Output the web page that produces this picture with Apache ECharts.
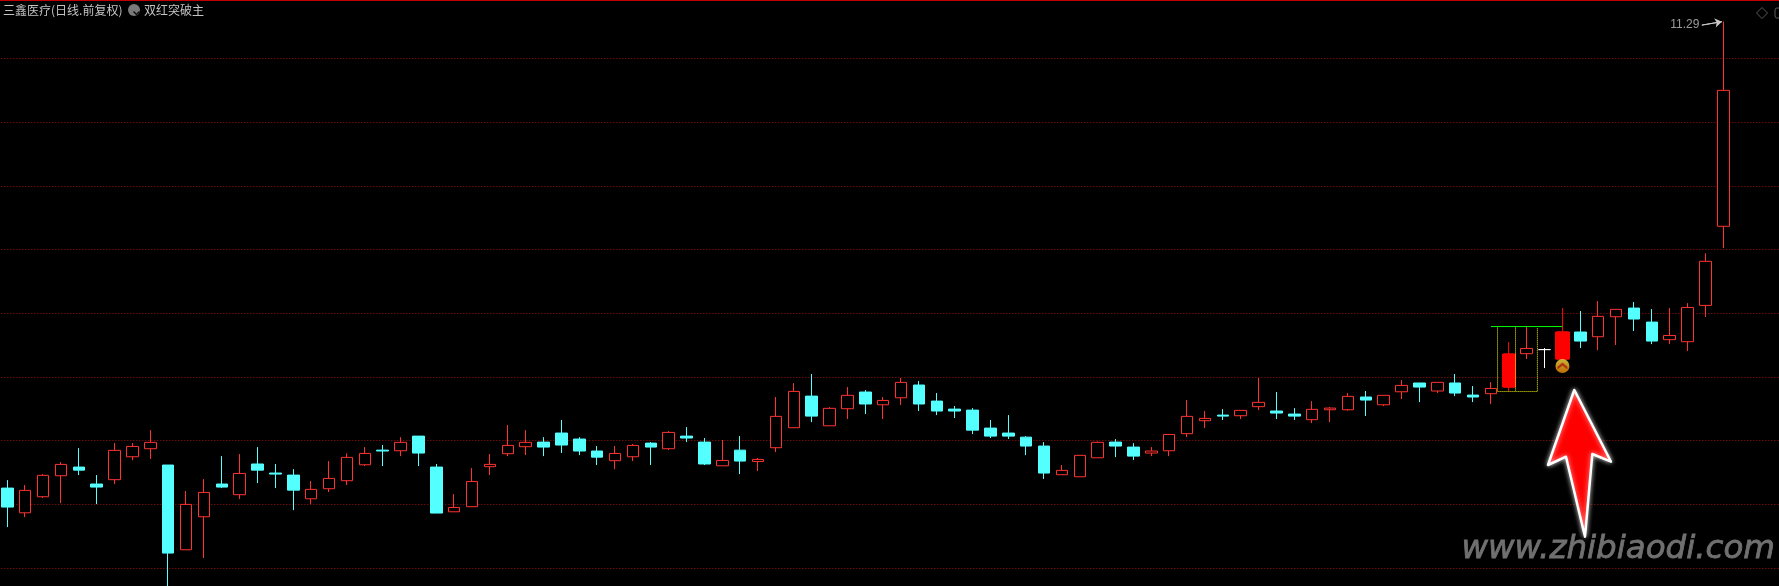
<!DOCTYPE html>
<html>
<head>
<meta charset="utf-8">
<style>html,body{margin:0;padding:0;background:#000;overflow:hidden}#c{width:1779px;height:586px}</style>
<script src="https://cdn.jsdelivr.net/npm/echarts@6/dist/echarts.min.js"></script>
</head>
<body>
<div id="c"></div>
<script>
const stockTitle = '三鑫医疗(日线.前复权)';
const indicatorName = '双红突破主';
const watermark = 'www.zhibiaodi.com';
const peakLabel = '11.29';
const barIndex = Array.from({length:100},(_,i)=>String(i+1));
const opens = [7.628,7.434,7.560,7.725,7.793,7.660,7.694,7.874,7.937,7.809,7.144,7.403,7.660,7.576,7.817,7.746,7.730,7.544,7.623,7.686,7.811,7.926,7.921,8.036,7.793,
7.442,7.482,7.796,7.898,7.953,7.989,8.060,8.013,7.919,7.843,7.874,7.981,7.937,8.036,7.989,7.803,7.926,7.837,7.945,8.102,8.350,8.117,8.251,8.382,8.282,
8.337,8.437,8.311,8.248,8.240,8.099,8.060,8.028,7.958,7.733,7.717,7.866,7.989,7.950,7.903,7.921,8.055,8.157,8.201,8.196,8.267,8.233,8.209,8.165,
8.243,8.243,8.343,8.282,8.384,8.453,8.390,8.453,8.358,8.369,8.421,8.683,8.715,8.641,8.853,8.816,8.973,9.041,8.931,8.793,8.777,9.062,9.683];
const closes = [7.479,7.610,7.728,7.814,7.769,7.636,7.924,7.955,7.987,7.118,7.500,7.594,7.636,7.743,7.769,7.738,7.612,7.618,7.704,7.869,7.900,7.919,7.987,7.903,7.432,
7.476,7.680,7.814,7.963,7.987,7.950,7.966,7.919,7.871,7.900,7.963,7.950,8.065,8.021,7.817,7.845,7.840,7.853,8.191,8.387,8.193,8.254,8.356,8.288,8.316,
8.458,8.288,8.233,8.233,8.083,8.036,8.036,7.958,7.746,7.767,7.885,7.987,7.958,7.879,7.919,8.049,8.191,8.175,8.193,8.238,8.301,8.217,8.193,8.246,
8.256,8.348,8.319,8.356,8.434,8.421,8.458,8.374,8.343,8.410,8.680,8.724,8.715,8.853,8.782,8.976,9.031,8.955,8.782,8.826,9.046,9.408,10.750];
const lows = [7.322,7.400,7.550,7.510,7.730,7.502,7.660,7.848,7.856,6.749,7.144,7.079,7.628,7.542,7.667,7.628,7.455,7.502,7.597,7.652,7.801,7.801,7.879,7.801,7.432,
7.442,7.482,7.730,7.879,7.887,7.879,7.903,7.887,7.809,7.777,7.840,7.809,7.926,7.989,7.809,7.803,7.738,7.762,7.911,8.102,8.146,8.117,8.170,8.209,8.170,
8.280,8.233,8.201,8.178,8.052,8.021,8.013,7.887,7.699,7.733,7.717,7.866,7.871,7.848,7.879,7.879,8.028,8.099,8.162,8.170,8.240,8.170,8.162,8.138,
8.146,8.235,8.194,8.272,8.327,8.303,8.374,8.350,8.303,8.288,8.390,8.641,8.570,8.641,8.727,8.711,8.751,8.861,8.758,8.758,8.704,8.971,9.512];
const highs = [7.691,7.652,7.738,7.832,7.942,7.730,7.981,7.981,8.083,7.809,7.605,7.699,7.879,7.895,7.950,7.817,7.777,7.683,7.840,7.900,7.950,7.966,8.028,8.036,7.817,
7.581,7.785,7.895,8.123,8.083,8.028,8.162,8.028,7.958,7.958,7.974,7.989,8.076,8.107,8.021,8.005,8.036,7.864,8.343,8.452,8.523,8.264,8.421,8.397,8.343,
8.492,8.468,8.374,8.272,8.256,8.162,8.201,8.036,7.989,7.809,7.885,7.994,8.013,7.981,7.950,8.052,8.319,8.233,8.248,8.238,8.492,8.382,8.256,8.311,
8.264,8.374,8.390,8.356,8.476,8.453,8.458,8.523,8.429,8.460,8.774,8.892,8.727,9.041,9.018,9.096,9.033,9.088,9.033,9.041,9.080,9.471,11.29];
const filledBars = [84,87];
const neutralBars = [86];
const signalBar = 87;
const signalPrice = 8.586;
const boxOutline = [[83.37,8.888],[83.37,8.386],[85.6,8.386],[85.6,8.888]];
const boxDivider = [[84.375,8.888],[84.375,8.386]];
const ceilingLine = [[83,8.896],[87,8.896]];
const peakArrow = [[94.8,11.262],[95.92,11.289]];

const UP='#ff3232', DOWN='#54ffff';
const rows = opens.map((o,i)=>{
  const v=[o,closes[i],lows[i],highs[i]];
  if(neutralBars.includes(i)) return {value:v,itemStyle:{color:'#fff',color0:'#fff',borderColor:'#fff',borderColor0:'#fff'}};
  return v;
});
const filledRows = opens.map((o,i)=> filledBars.includes(i)?[o,closes[i],lows[i],highs[i]]:['-','-','-','-']);
const overlay = (data,color,type)=>({type:'line',xAxisIndex:1,data,symbol:'none',silent:true,z:6,lineStyle:{color,width:1,type},animation:false});

const chart = echarts.init(document.getElementById('c'),null,{renderer:'canvas'});
chart.setOption({
  animation:false,
  backgroundColor:'#000',
  grid:{left:-1.64,top:-5.2,width:1787.5,height:637,containLabel:false,outerBoundsMode:'none'},
  xAxis:[
    {type:'category',data:barIndex,show:false,boundaryGap:true},
    {type:'value',min:-0.5,max:99.5,show:false,splitLine:{show:false}}
  ],
  yAxis:{type:'value',min:6.5,max:11.5,interval:0.5,axisLine:{show:false},axisTick:{show:false},axisLabel:{show:false},
    splitLine:{show:true,lineStyle:{color:'#a01010',width:1,type:[1,2]}}},
  series:[
    {type:'candlestick',data:rows,barWidth:12,silent:true,z:3,
      itemStyle:{color:'#000',color0:DOWN,borderColor:UP,borderColor0:DOWN,borderWidth:1}},
    {type:'candlestick',data:filledRows,barWidth:14,silent:true,z:4,
      itemStyle:{color:'#ff0000',color0:'#ff0000',borderColor:'#ff0000',borderColor0:'#ff0000',borderWidth:1}},
    overlay(boxOutline,'#ffff00',[1,1]),
    overlay(boxDivider,'#ffff00',[1,1]),
    overlay(ceilingLine,'#00ff00','solid'),
    {type:'line',xAxisIndex:1,data:peakArrow,symbol:'none',silent:true,z:6,animation:false,lineStyle:{color:'#c8c8c8',width:1},
      markLine:{silent:true,symbol:['none','arrow'],symbolSize:7,label:{show:false},lineStyle:{color:'#c8c8c8',width:1,type:'solid'},
        data:[[{coord:peakArrow[0]},{coord:peakArrow[1]}]]}},
    {type:'scatter',xAxisIndex:1,data:[peakArrow[0]],silent:true,z:7,symbolSize:1,itemStyle:{color:'rgba(0,0,0,0)'},
      label:{show:true,formatter:peakLabel,position:'left',distance:2,color:'#c0c0c0',fontSize:12,fontFamily:'"Liberation Sans"'}},
    {type:'scatter',data:[[signalBar,signalPrice]],silent:true,z:7,symbol:'circle',symbolSize:14,
      itemStyle:{color:new echarts.graphic.LinearGradient(0,0,0,1,[{offset:0,color:'#ffe14a'},{offset:1,color:'#f08a00'}])}},
    {type:'scatter',data:[[signalBar,signalPrice]],silent:true,z:8,symbol:'path://M0 6 L5 0 L10 6 L10 10 L5 4.5 L0 10 Z',symbolSize:[10,7],
      itemStyle:{color:'#a8200c'}}
  ],
  graphic:[
    {type:'rect',left:0,top:0,shape:{width:1779,height:1},style:{fill:'#c00000'},silent:true},
    {type:'text',left:3,top:4,style:{text:stockTitle,fill:'#c4c4c4',font:'12px "Noto Sans CJK SC"'},silent:true},
    {type:'circle',left:128,top:4,shape:{r:6},style:{fill:'#7a7a7a'},silent:true},
    {type:'polyline',left:131,top:9,shape:{points:[[0,0],[3,3],[6,0]]},style:{stroke:'#111',lineWidth:1.5,fill:null},silent:true},
    {type:'text',left:144,top:4,style:{text:indicatorName,fill:'#c4c4c4',font:'12px "Noto Sans CJK SC"'},silent:true},
    {type:'polygon',left:1754,top:5,shape:{points:[[5.5,0],[11,5.5],[5.5,11],[0,5.5]]},style:{fill:null,stroke:'#5a5a5a',lineWidth:1},silent:true},
    {type:'rect',left:1772.5,top:5.5,shape:{width:12,height:10,r:2},style:{fill:null,stroke:'#5a5a5a',lineWidth:1},silent:true},
    {type:'text',z:19,left:1461,top:533,style:{text:watermark,fill:'#707070',stroke:'#707070',lineWidth:0.8,font:'italic 32.5px "DejaVu Sans"',shadowColor:'rgba(110,110,110,0.5)',shadowBlur:7},silent:true},
    {type:'polygon',z:20,shape:{points:[[1574.3,390],[1611,461.7],[1592.3,454],[1585,536.7],[1566,456.7],[1548,465]]},
      style:{fill:'#ff0000',stroke:'#fff',lineWidth:2.5,lineJoin:'round',shadowColor:'rgba(255,255,255,0.7)',shadowBlur:5},silent:true}
  ]
});
</script>
</body>
</html>
